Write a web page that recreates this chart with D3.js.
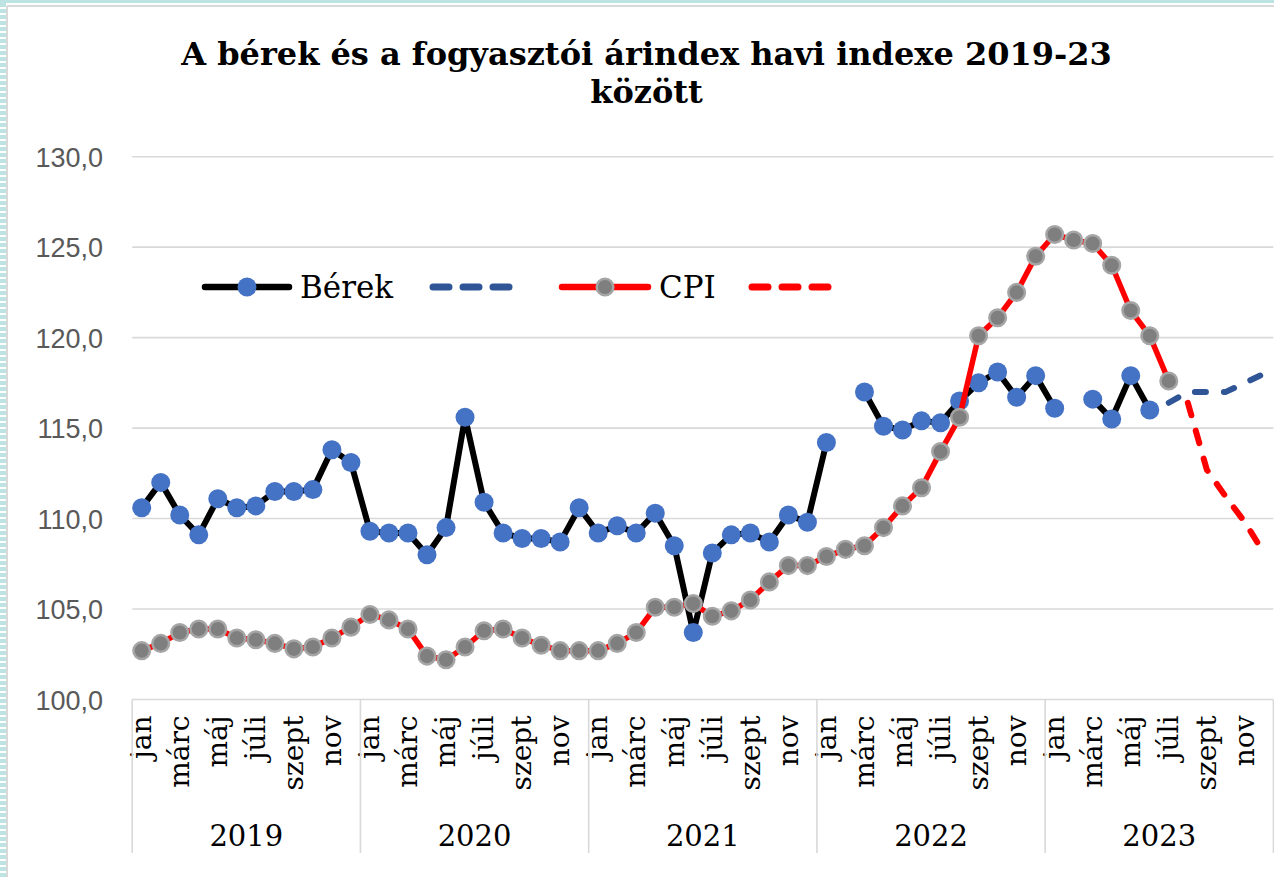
<!DOCTYPE html>
<html><head><meta charset="utf-8">
<script src="https://cdn.jsdelivr.net/npm/d3@7"></script>
<style>body{margin:0;background:#fff;overflow:hidden} svg{display:block}</style>
</head><body>
<svg id="chart" width="1274" height="877"></svg>
<script>
// ---------- data ----------
const years = ["2019", "2020", "2021", "2022", "2023"];
const months = ["jan", "febr", "márc", "ápr", "máj", "jún", "júli", "aug", "szept", "okt", "nov", "dec"];
const yTicks = [100, 105, 110, 115, 120, 125, 130];
const titleLines = ["A bérek és a fogyasztói árindex havi indexe 2019-23", "között"];
const seriesNames = ["Bérek", "CPI"];

// Bérek (wages), monthly index
const wages = [
  110.6, 112.0, 110.2, 109.1, 111.1, 110.6, 110.7, 111.5, 111.5, 111.6, 113.8, 113.1,
  109.3, 109.2, 109.2, 108.0, 109.5, 115.6, 110.9, 109.2, 108.9, 108.9, 108.7, 110.6,
  109.2, 109.6, 109.2, 110.3, 108.5, 103.7, 108.1, 109.1, 109.2, 108.7, 110.2, 109.8,
  114.2, null, 117.0, 115.1, 114.9, 115.4, 115.3, 116.5, 117.5, 118.1, 116.7, 117.9,
  116.1, null, 116.6, 115.5, 117.9, 116.0, null, null, null, null, null, null
];
// Bérek forecast (dashed)
const wagesForecast = [
  null, null, null, null, null, null, null, null, null, null, null, null,
  null, null, null, null, null, null, null, null, null, null, null, null,
  null, null, null, null, null, null, null, null, null, null, null, null,
  null, null, null, null, null, null, null, null, null, null, null, null,
  null, null, null, null, null, null, 116.4, 117.0, 117.0, 117.0, 117.5, 118.0
];
// CPI, monthly index
const cpi = [
  102.7, 103.1, 103.7, 103.9, 103.9, 103.4, 103.3, 103.1, 102.8, 102.9, 103.4, 104.0,
  104.7, 104.4, 103.9, 102.4, 102.2, 102.9, 103.8, 103.9, 103.4, 103.0, 102.7, 102.7,
  102.7, 103.1, 103.7, 105.1, 105.1, 105.3, 104.6, 104.9, 105.5, 106.5, 107.4, 107.4,
  107.9, 108.3, 108.5, 109.5, 110.7, 111.7, 113.7, 115.6, 120.1, 121.1, 122.5, 124.5,
  125.7, 125.4, 125.2, 124.0, 121.5, 120.1, 117.6, null, null, null, null, null
];
// CPI forecast (dashed)
const cpiForecast = [
  null, null, null, null, null, null, null, null, null, null, null, null,
  null, null, null, null, null, null, null, null, null, null, null, null,
  null, null, null, null, null, null, null, null, null, null, null, null,
  null, null, null, null, null, null, null, null, null, null, null, null,
  null, null, null, null, null, null, null, 116.4, 112.7, 111.2, 109.8, 108.1
];

// ---------- layout ----------
const W = 1274, H = 877;
const plot = {left: 132.2, right: 1273.4, top: 156.7, bottom: 699.5};
const serif = "'DejaVu Serif', serif";
const sans = "'Liberation Sans', Arial, sans-serif";
const gridColor = "#D9D9D9";

const svg = d3.select("#chart");

// background & frame
svg.append("rect").attr("width", W).attr("height", H).attr("fill", "#fff");
svg.append("rect").attr("x", 0).attr("y", 0).attr("width", W).attr("height", 3).attr("fill", "#BDE3E3");
const stripes = d3.range(0, H, 6);
svg.append("g").selectAll("rect").data(stripes).join("rect")
  .attr("x", 0).attr("y", d => d + 3).attr("width", 6).attr("height", 4).attr("fill", "#BDE3E3");
svg.append("line").attr("x1", 7).attr("x2", 7).attr("y1", 6).attr("y2", H).attr("stroke", "#D9D9D9").attr("stroke-width", 2);
svg.append("line").attr("x1", 7).attr("x2", W).attr("y1", 6).attr("y2", 6).attr("stroke", "#D9D9D9").attr("stroke-width", 2);

// keys
const keys = [];
years.forEach(y => months.forEach((m, i) => keys.push(y + "-" + i)));

const x = d3.scaleBand().domain(keys).range([plot.left, plot.right]).padding(0);
const cx = k => x(k) + x.bandwidth() / 2;
const y = d3.scaleLinear().domain([100, 130]).range([plot.bottom, plot.top]);

// gridlines
svg.append("g").selectAll("line").data(yTicks).join("line")
  .attr("x1", plot.left).attr("x2", plot.right)
  .attr("y1", d => y(d)).attr("y2", d => y(d))
  .attr("stroke", gridColor).attr("stroke-width", 1.6);

// y axis (labels only)
const yAxis = d3.axisLeft(y).tickValues(yTicks).tickSize(0).tickPadding(0)
  .tickFormat(d => d3.format(".1f")(d).replace(".", ","));
const gy = svg.append("g").attr("transform", `translate(${103},0)`).call(yAxis);
gy.select(".domain").remove();
gy.selectAll("text").attr("font-family", sans).attr("font-size", 27).attr("fill", "#595959").attr("dy", "0.36em");

// x axis: month labels
const xAxis = d3.axisBottom(x).tickValues(keys.filter((k, i) => i % 2 === 0)).tickSize(0)
  .tickFormat(k => months[+k.split("-")[1]]);
const gx = svg.append("g").attr("transform", `translate(0,${plot.bottom})`).call(xAxis);
gx.select(".domain").remove();
gx.selectAll("text")
  .attr("font-family", serif).attr("font-size", 28).attr("fill", "#000")
  .attr("transform", "rotate(-90)").attr("x", -16).attr("y", 0).attr("dy", "0.33em")
  .style("text-anchor", "end");

// year separators and labels
const yearBounds = years.map((yr, i) => x(yr + "-0"));
yearBounds.push(plot.right);
svg.append("g").selectAll("line").data(yearBounds).join("line")
  .attr("x1", d => d).attr("x2", d => d).attr("y1", plot.bottom).attr("y2", 853)
  .attr("stroke", gridColor).attr("stroke-width", 1.6);
svg.append("g").selectAll("text").data(years).join("text")
  .attr("x", (d, i) => (yearBounds[i] + yearBounds[i + 1]) / 2).attr("y", 846)
  .attr("text-anchor", "middle").attr("font-family", serif).attr("font-size", 29)
  .text(d => d);

// series
const toPts = arr => arr.map((v, i) => ({k: keys[i], v}));
const line = d3.line().defined(d => d.v != null).x(d => cx(d.k)).y(d => y(d.v));

function drawLine(arr, color, width, dash) {
  const p = svg.append("path").datum(toPts(arr)).attr("d", line)
    .attr("fill", "none").attr("stroke", color).attr("stroke-width", width)
    .attr("stroke-linejoin", "round").attr("stroke-linecap", "round");
  if (dash) p.attr("stroke-dasharray", dash);
}
function drawMarkers(arr, fill, stroke, sw, r) {
  svg.append("g").selectAll("circle").data(toPts(arr).filter(d => d.v != null)).join("circle")
    .attr("cx", d => cx(d.k)).attr("cy", d => y(d.v)).attr("r", r)
    .attr("fill", fill).attr("stroke", stroke).attr("stroke-width", sw);
}

drawLine(wages, "#000", 6);
drawMarkers(wages, "#4472C4", "none", 0, 9.5);
drawLine(wagesForecast, "#2F5597", 6, "11,18");
drawLine(cpi, "#FF0000", 5.5);
drawMarkers(cpi, "#7F7F7F", "#A5A5A5", 2.5, 8.3);
drawLine(cpiForecast, "#FF0000", 6, "13,16");

// legend
const lg = svg.append("g");
lg.append("line").attr("x1", 205).attr("x2", 289).attr("y1", 287).attr("y2", 287)
  .attr("stroke", "#000").attr("stroke-width", 6.5).attr("stroke-linecap", "round");
lg.append("circle").attr("cx", 247).attr("cy", 287).attr("r", 9.5).attr("fill", "#4472C4");
lg.append("text").attr("x", 300).attr("y", 298).attr("font-family", serif).attr("font-size", 31).text(seriesNames[0]);
lg.append("line").attr("x1", 433).attr("x2", 509).attr("y1", 287).attr("y2", 287)
  .attr("stroke", "#2F5597").attr("stroke-width", 7).attr("stroke-linecap", "round").attr("stroke-dasharray", "16,14");
lg.append("line").attr("x1", 562).attr("x2", 648).attr("y1", 287).attr("y2", 287)
  .attr("stroke", "#FF0000").attr("stroke-width", 6.5).attr("stroke-linecap", "round");
lg.append("circle").attr("cx", 605).attr("cy", 287).attr("r", 8.3).attr("fill", "#7F7F7F").attr("stroke", "#A5A5A5").attr("stroke-width", 2.5);
lg.append("text").attr("x", 659).attr("y", 298).attr("font-family", serif).attr("font-size", 31).text(seriesNames[1]);
lg.append("line").attr("x1", 752).attr("x2", 828).attr("y1", 287).attr("y2", 287)
  .attr("stroke", "#FF0000").attr("stroke-width", 7).attr("stroke-linecap", "round").attr("stroke-dasharray", "16,14");

// title
const tg = svg.append("g");
tg.append("text").attr("x", 646.5).attr("y", 65).attr("text-anchor", "middle")
  .attr("font-family", serif).attr("font-weight", "bold").attr("font-size", 32).text(titleLines[0]);
tg.append("text").attr("x", 646.5).attr("y", 103).attr("text-anchor", "middle")
  .attr("font-family", serif).attr("font-weight", "bold").attr("font-size", 32).text(titleLines[1]);
</script>
</body></html>
